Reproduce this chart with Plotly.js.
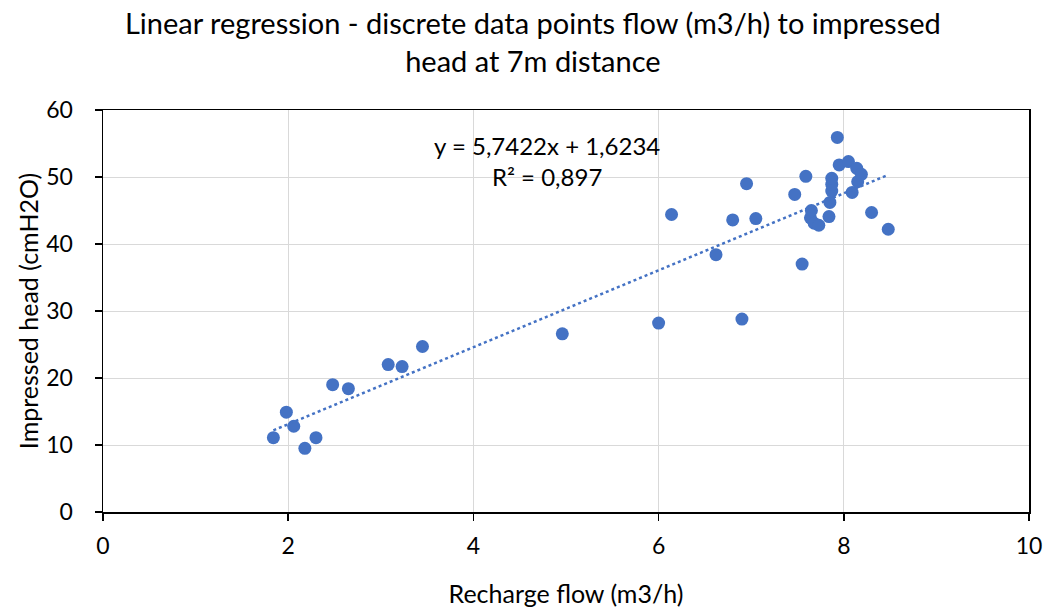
<!DOCTYPE html>
<html><head><meta charset="utf-8">
<script src="https://cdn.plot.ly/plotly-3.0.1.min.js"></script>
<style>body{margin:0;background:#fff}#c{width:1051px;height:610px}</style>
</head><body><div id="c"></div>
<script>
const flow = [1.84,1.98,2.06,2.18,2.30,2.48,2.65,3.08,3.23,3.45,4.96,6.00,6.14,6.62,6.80,6.90,6.95,7.05,7.47,7.55,7.59,7.64,7.65,7.68,7.73,7.84,7.85,7.87,7.87,7.87,7.93,7.95,8.05,8.09,8.14,8.15,8.19,8.30,8.48];
const head = [11.1,14.9,12.8,9.5,11.1,19.0,18.4,22.0,21.7,24.7,26.6,28.2,44.4,38.4,43.6,28.8,49.0,43.8,47.4,37.0,50.1,43.9,45.0,43.1,42.8,44.1,46.2,47.9,48.9,49.8,55.9,51.8,52.3,47.7,51.3,49.3,50.4,44.7,42.2];
const slope = 5.7422, intercept = 1.6234, r2 = 0.897;
const xmin = Math.min(...flow), xmax = Math.max(...flow);
const trendX = [xmin, xmax];
const trendY = trendX.map(x => slope*x + intercept);
const fmt = v => v.toString().replace('.', ',');
const font = 'Lato, "Open Sans", sans-serif';
const axisCommon = {gridcolor:'#d9d9d9', gridwidth:1, showline:true, mirror:true, linecolor:'#000', linewidth:1.5, zeroline:false, ticks:'outside', ticklen:7, tickcolor:'#000', tickwidth:1.5, tickfont:{size:23, color:'#000'}};
Plotly.newPlot('c', [
  {x: flow, y: head, type:'scatter', mode:'markers', marker:{color:'#4472C4', size:13}, hoverinfo:'skip'},
  {x: trendX, y: trendY, type:'scatter', mode:'lines', line:{color:'#4472C4', width:2.5, dash:'dot'}, hoverinfo:'skip'}
], {
  width:1051, height:610, showlegend:false,
  paper_bgcolor:'#fff', plot_bgcolor:'#fff',
  font:{family:font, color:'#000'},
  margin:{l:103, r:22, t:110, b:98},
  title:{text:'Linear regression - discrete data points flow (m3/h) to impressed<br>head at 7m distance', font:{size:29, color:'#000'}, x:0.507, xanchor:'center', y:0.944, yanchor:'top'},
  xaxis:Object.assign({}, axisCommon, {range:[0,10], dtick:2, tick0:0, ticklabelstandoff:6, title:{text:'Recharge flow (m3/h)', font:{size:25}, standoff:27}}),
  yaxis:Object.assign({}, axisCommon, {range:[0,60], dtick:10, tick0:0, ticklabelstandoff:17, title:{text:'Impressed head (cmH2O)', font:{size:25}, standoff:0}}),
  annotations:[{xref:'paper', yref:'paper', x:0.479, y:0.873, text:'y = '+fmt(slope)+'x + '+fmt(intercept)+'<br>R² = '+fmt(r2), showarrow:false, font:{size:24}, align:'center', xanchor:'center', yanchor:'middle'}]
}, {staticPlot:true});
</script></body></html>
